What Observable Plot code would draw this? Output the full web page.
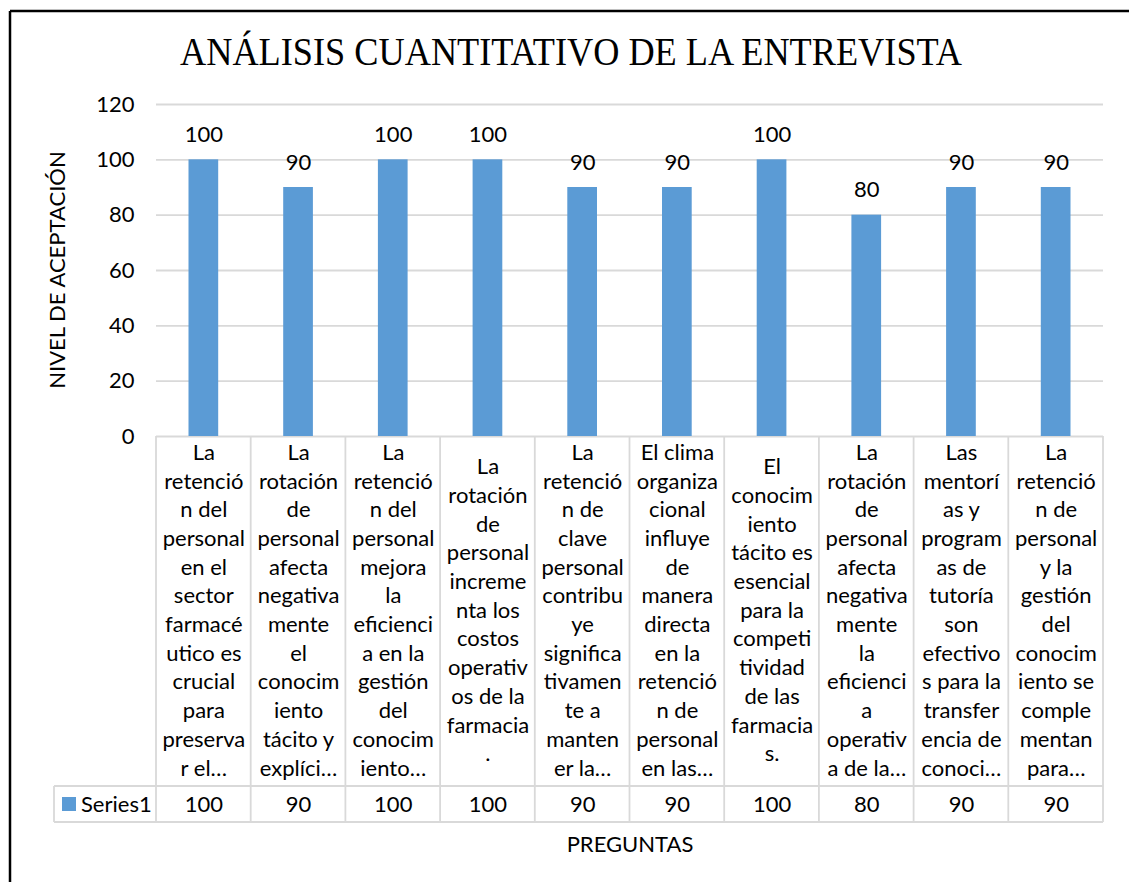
<!DOCTYPE html>
<html>
<head>
<meta charset="utf-8">
<script src="https://cdn.jsdelivr.net/npm/d3@7"></script>
<script src="https://cdn.jsdelivr.net/npm/@observablehq/plot@0.6"></script>
<style>
  html, body { margin: 0; padding: 0; background: #fff; }
  svg { display: block; }
</style>
</head>
<body>
<div id="chart"></div>
<script>
const title = "ANÁLISIS CUANTITATIVO DE LA ENTREVISTA";
const yLabel = "NIVEL DE ACEPTACIÓN";
const xLabel = "PREGUNTAS";
const seriesName = "Series1";

const categories = [
  "La\nretenció\nn del\npersonal\nen el\nsector\nfarmacé\nutico es\ncrucial\npara\npreserva\nr el…",
  "La\nrotación\nde\npersonal\nafecta\nnegativa\nmente\nel\nconocim\niento\ntácito y\nexplíci…",
  "La\nretenció\nn del\npersonal\nmejora\nla\neficienci\na en la\ngestión\ndel\nconocim\niento…",
  "La\nrotación\nde\npersonal\nincreme\nnta los\ncostos\noperativ\nos de la\nfarmacia\n.",
  "La\nretenció\nn de\nclave\npersonal\ncontribu\nye\nsignifica\ntivamen\nte a\nmanten\ner la…",
  "El clima\norganiza\ncional\ninfluye\nde\nmanera\ndirecta\nen la\nretenció\nn de\npersonal\nen las…",
  "El\nconocim\niento\ntácito es\nesencial\npara la\ncompeti\ntividad\nde las\nfarmacia\ns.",
  "La\nrotación\nde\npersonal\nafecta\nnegativa\nmente\nla\neficienci\na\noperativ\na de la…",
  "Las\nmentorí\nas y\nprogram\nas de\ntutoría\nson\nefectivo\ns para la\ntransfer\nencia de\nconoci…",
  "La\nretenció\nn de\npersonal\ny la\ngestión\ndel\nconocim\niento se\ncomple\nmentan\npara…"
];
const values = [100, 90, 100, 100, 90, 90, 100, 80, 90, 90];
const yTicks = [0, 20, 40, 60, 80, 100, 120];

const data = categories.map((c, i) => ({cat: c, value: values[i]}));

const W = 1129, H = 882;
const M = {top: 104, right: 26, bottom: 446, left: 156};
const FONT = "Lato, 'Open Sans', sans-serif";
const FS = 22;
const BAR = "#5b9bd5";
const GRID = "#d9d9d9";

// table and annotations drawn with the plot's scales
function tableMark(index, scales, values_, dim) {
  const g = d3.create("svg:g").attr("text-anchor", "start");
  const x = scales.x;
  const n = categories.length;
  const y0 = dim.height - dim.marginBottom;   // table top (axis line)
  const rowTop = y0 + 350;                      // values row top
  const rowBot = rowTop + 36;                   // values row bottom
  const xl = dim.marginLeft - 102;              // legend cell left
  const xr = dim.width - dim.marginRight;
  const lines = g.append("g").attr("stroke", GRID).attr("stroke-width", 1.8);
  categories.forEach((c) => {
    const xx = x(c);
    lines.append("line").attr("x1", xx).attr("x2", xx).attr("y1", y0).attr("y2", rowBot);
  });
  lines.append("line").attr("x1", xr).attr("x2", xr).attr("y1", y0).attr("y2", rowBot);
  lines.append("line").attr("x1", xl).attr("x2", xl).attr("y1", rowTop).attr("y2", rowBot);
  lines.append("line").attr("x1", xl).attr("x2", xr).attr("y1", rowTop).attr("y2", rowTop);
  lines.append("line").attr("x1", xl).attr("x2", xr).attr("y1", rowBot).attr("y2", rowBot);
  // legend key
  const cy = (rowTop + rowBot) / 2;
  g.append("rect").attr("x", xl + 8).attr("y", cy - 7).attr("width", 14).attr("height", 14).attr("fill", BAR);
  g.append("text").attr("x", xl + 27).attr("y", cy).attr("dy", "0.35em").attr("text-anchor", "start")
    .attr("font-size", FS).attr("font-family", FONT).attr("fill", "#000").text(seriesName);
  // title
  g.append("text").attr("x", 180).attr("y", 65).attr("text-anchor", "start")
    .attr("font-family", "'Liberation Serif', 'Times New Roman', serif")
    .attr("font-size", 39).attr("fill", "#000")
    .attr("textLength", 782).attr("lengthAdjust", "spacingAndGlyphs").text(title);
  // y label
  const ym = (dim.marginTop + y0) / 2;
  g.append("text").attr("transform", `translate(57,${ym}) rotate(-90)`)
    .attr("text-anchor", "middle").attr("dy", "0.35em")
    .attr("font-size", FS).attr("font-family", FONT).attr("fill", "#000").text(yLabel);
  // x label
  g.append("text").attr("x", 630).attr("y", 844).attr("dy", "0.35em").attr("text-anchor", "middle")
    .attr("font-size", FS).attr("font-family", FONT).attr("fill", "#000").text(xLabel);
  // page border
  g.append("line").attr("x1", 10).attr("x2", W).attr("y1", 11).attr("y2", 11).attr("stroke", "#000").attr("stroke-width", 2.5);
  g.append("line").attr("x1", 10).attr("x2", 10).attr("y1", 11).attr("y2", H).attr("stroke", "#000").attr("stroke-width", 2.5);
  return g.node();
}

const plot = Plot.plot({
  width: W,
  height: H,
  marginTop: M.top,
  marginRight: M.right,
  marginBottom: M.bottom,
  marginLeft: M.left,
  style: {fontFamily: FONT, fontSize: FS + "px", color: "#000", background: "#fff"},
  x: {domain: categories, padding: 0, round: false, axis: null},
  y: {domain: [0, 120], axis: null},
  marks: [
    Plot.ruleY(yTicks.filter(d => d > 0), {stroke: GRID, strokeWidth: 1.8}),
    Plot.ruleY([0], {stroke: GRID, strokeWidth: 1.8}),
    Plot.barY(data, {x: "cat", y: "value", fill: BAR, insetLeft: 32.5, insetRight: 32.5}),
    Plot.text(data, {x: "cat", y: "value", text: d => String(d.value), dy: -25, lineAnchor: "middle", fontSize: FS, fill: "#000"}),
    Plot.axisY({ticks: yTicks, tickSize: 0, tickPadding: 22, fontSize: FS, label: null, fill: "#000"}),
    Plot.text(data, {x: "cat", text: "cat", frameAnchor: "bottom", dy: 172, lineAnchor: "middle", lineHeight: 1.305, fontSize: FS, fill: "#000"}),
    Plot.text(data, {x: "cat", text: d => String(d.value), frameAnchor: "bottom", dy: 368, lineAnchor: "middle", fontSize: FS, fill: "#000"}),
    tableMark
  ]
});
document.getElementById("chart").appendChild(plot);
</script>
</body>
</html>
